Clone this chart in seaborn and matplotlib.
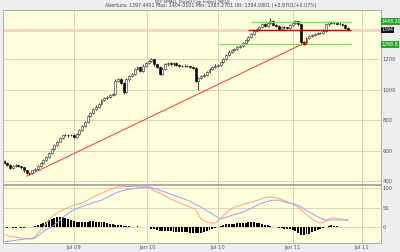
import numpy as np
import pandas as pd
import matplotlib
matplotlib.use("Agg")
import matplotlib.pyplot as plt
import seaborn as sns

# ---------------- data (weekly bars, index 0 = first week of 2009) ----------------
closes = [520, 505, 488, 500, 505, 498, 490, 470, 455, 450,
          470, 482, 500, 520, 540, 560, 585, 612, 635, 660,
          685, 700, 705, 700, 705, 692, 712, 735, 760, 790,
          830, 850, 875, 890, 905, 935, 945, 955, 965, 975,
          1060, 1068, 1048, 988, 1068, 1090, 1105, 1135, 1150, 1125,
          1160, 1175, 1190, 1200, 1168, 1150, 1105, 1140, 1168, 1175,
          1168, 1175, 1165, 1160, 1155, 1160, 1155, 1150, 1145, 1060,
          1075, 1090, 1100, 1120, 1135, 1150, 1160, 1165, 1185, 1200,
          1230, 1252, 1262, 1270, 1284, 1290, 1310, 1330, 1345, 1368,
          1385, 1400, 1412, 1432, 1420, 1438, 1455, 1425, 1420, 1400,
          1415, 1410, 1405, 1425, 1440, 1450, 1430, 1312, 1305, 1340,
          1355, 1362, 1368, 1372, 1375, 1390, 1430, 1445, 1440, 1438,
          1432, 1436, 1425, 1405, 1394]
first_open = 530
highs = [538, 525, 510, 506, 512, 510, 502, 494, 474, 462,
         476, 488, 506, 526, 546, 566, 591, 618, 641, 666,
         691, 706, 712, 711, 711, 710, 718, 741, 766, 796,
         836, 857, 882, 897, 912, 942, 952, 962, 972, 982,
         1068, 1076, 1075, 1052, 1075, 1097, 1112, 1142, 1158, 1155,
         1167, 1182, 1198, 1212, 1205, 1172, 1155, 1147, 1175, 1182,
         1180, 1182, 1180, 1170, 1165, 1167, 1165, 1160, 1157, 1150,
         1082, 1097, 1108, 1127, 1142, 1157, 1167, 1172, 1192, 1207,
         1237, 1259, 1269, 1277, 1291, 1297, 1317, 1337, 1352, 1375,
         1392, 1407, 1419, 1439, 1438, 1445, 1470, 1460, 1430, 1425,
         1422, 1420, 1415, 1432, 1447, 1458, 1455, 1435, 1322, 1347,
         1362, 1369, 1375, 1379, 1382, 1397, 1437, 1452, 1450, 1445,
         1443, 1443, 1440, 1430, 1410]
lows = [512, 498, 480, 482, 494, 490, 482, 462, 445, 438,
        444, 464, 476, 494, 514, 534, 554, 579, 606, 629,
        654, 679, 694, 693, 694, 686, 686, 706, 729, 754,
        784, 823, 843, 868, 882, 898, 928, 938, 948, 958,
        968, 1052, 1040, 975, 982, 1060, 1083, 1098, 1128, 1115,
        1118, 1153, 1168, 1183, 1160, 1142, 1095, 1098, 1133, 1160,
        1160, 1160, 1158, 1152, 1148, 1148, 1148, 1142, 1138, 1050,
        1000, 1068, 1082, 1093, 1113, 1128, 1143, 1153, 1158, 1178,
        1193, 1223, 1245, 1255, 1263, 1277, 1283, 1303, 1323, 1338,
        1361, 1378, 1393, 1405, 1412, 1413, 1431, 1418, 1412, 1392,
        1393, 1403, 1398, 1398, 1418, 1433, 1423, 1298, 1292, 1298,
        1333, 1348, 1355, 1361, 1365, 1368, 1383, 1423, 1432, 1430,
        1425, 1425, 1418, 1398, 1385]
osc_fast = [-20, -22, -24, -25, -26, -27, -28, -29, -30, -31,
            -31, -25, -16, -8, 0, 9, 18, 26, 31, 36,
            40, 44, 47, 50, 53, 56, 58, 60, 62, 65,
            69, 73, 77, 80, 84, 87, 90, 93, 96, 99,
            101, 103, 104, 104, 104, 104, 104, 104, 104, 103,
            103, 102, 102, 98, 94, 90, 87, 84, 80, 76,
            72, 69, 66, 63, 60, 57, 54, 51, 48, 44,
            32, 20, 16, 13, 11, 10, 10, 16, 22, 29,
            36, 42, 47, 51, 53, 55, 57, 60, 62, 64,
            66, 68, 70, 73, 75, 77, 77, 76, 75, 74,
            71, 68, 65, 62, 59, 55, 51, 45, 38, 32,
            26, 21, 17, 13, 10, 12, 16, 20, 23, 23,
            22, 21, 20, 19, 18]
osc_slow = [-38, -37, -36, -35, -34, -33, -32, -31, -30, -29,
            -29, -28, -23, -17, -12, -7, -3, 0, 6, 12,
            18, 24, 30, 36, 40, 44, 47, 50, 53, 55,
            58, 60, 63, 65, 67, 69, 73, 76, 80, 83,
            87, 90, 92, 94, 96, 97, 98, 99, 100, 101,
            102, 103, 103, 101, 99, 97, 95, 92, 90, 87,
            84, 82, 79, 77, 74, 72, 69, 66, 62, 58,
            55, 51, 47, 42, 38, 33, 29, 25, 21, 23,
            25, 27, 30, 32, 34, 36, 38, 41, 45, 48,
            52, 55, 58, 62, 64, 66, 68, 69, 69, 69,
            67, 65, 63, 61, 60, 58, 56, 52, 47, 42,
            38, 35, 31, 27, 23, 20, 18, 18, 18, 18,
            18, 18, 18, 18, 18]
hist = [-1, -2, -1, -2, -2, -1, -2, -2, -1, 0,
        1, 2, 4, 7, 10, 13, 17, 20, 23, 25,
        26, 25, 23, 20, 17, 15, 13, 13, 12, 12,
        14, 15, 15, 14, 13, 13, 12, 10, 9, 7,
        6, 5, 4, 3, 2, 2, 1, 1, 2, 1,
        1, 0, 0, -4, -6, -8, -9, -10, -10, -11,
        -11, -12, -12, -13, -13, -14, -14, -15, -15, -16,
        -16, -16, -14, -11, -8, -5, -2, 0, 3, 6,
        8, 9, 9, 9, 10, 10, 11, 11, 12, 13,
        12, 11, 10, 8, 6, 4, 2, 0, -1, -2,
        -3, -4, -5, -6, -8, -11, -15, -20, -21, -19,
        -17, -14, -11, -8, -5, -2, 1, 3, 4, 3,
        2, 1, 0, -1, -1]

tick_weeks = [25, 51.5, 77, 104, 129]
tick_labels = ["Jul 09", "Jan 10", "Jul 10", "Jan 11", "Jul 11"]
price_ticks = [400, 600, 800, 1000, 1200]
osc_ticks = [0, 50, 100]
resist_level = 1448.20
support_level = 1298.8
last_level = 1394
resist_start, support_start, last_start, lines_end = 89, 77.5, 88, 125
trend_x = [8, 108]
trend_y = [432, 1305]
title1 = "DJY SMALL (Small Cap Index) (BFLJ)"
title2 = "Abertura: 1397.4401 Max: 1404.0101 Min: 1387.2701 Ult: 1394.0801 (+0.9701/+0.07%)"

# ---------------- table ----------------
weeks = np.arange(len(closes))
opens = [first_open] + closes[:-1]
df = pd.DataFrame({"week": weeks, "open": opens, "close": closes,
                   "high": highs, "low": lows})
df["up"] = df["close"] >= df["open"]
osc = pd.DataFrame({"week": weeks, "fast": osc_fast, "slow": osc_slow, "hist": hist})

# ---------------- style ----------------
sns.set_style("white")
plt.rcParams["font.family"] = ["DejaVu Sans"]
BG = "#EEEEEE"
PANEL = "#FFFFDC"
GRID = "#D6D6BE"
SPINE = "#A0A0A0"
TXT = "#555555"

fig = plt.figure(figsize=(4, 2.52), dpi=100, facecolor=BG)
ax = fig.add_axes([3 / 400, 1 - 183.5 / 252, 378 / 400, 173.5 / 252])
ax2 = fig.add_axes([3 / 400, 1 - 243 / 252, 378 / 400, 58 / 252])

for a in (ax, ax2):
    a.set_facecolor(PANEL)
    for s in a.spines.values():
        s.set_color(SPINE)
        s.set_linewidth(0.6)
    a.set_xlim(-0.55, 135.9)
    a.set_xticks(tick_weeks)
    a.grid(True, color=GRID, lw=0.7, zorder=0)
    a.set_axisbelow(True)
    a.yaxis.tick_right()
    a.tick_params(axis="both", length=0, labelsize=3.8, labelcolor=TXT, pad=1.2)

# ---------------- main panel ----------------
ax.set_ylim(384, 1525)
ax.set_yticks(price_ticks)
ax.set_xticklabels([])

ax.axhline(last_level, color="#F7D2BC", lw=2.0, zorder=1)

ax.vlines(df["week"], df["low"], df["high"], color="black", lw=0.5, zorder=3)
up = df[df["up"]]
dn = df[~df["up"]]
ax.bar(up["week"], (up["close"] - up["open"]).clip(lower=2), bottom=up["open"],
       width=0.7, facecolor="white", edgecolor="#222222", lw=0.4, zorder=4)
ax.bar(dn["week"], dn["close"] - dn["open"], bottom=dn["open"],
       width=0.7, facecolor="black", edgecolor="black", lw=0.4, zorder=4)

ax.plot(trend_x, trend_y, color="#FF3030", lw=0.7, zorder=2)
ax.hlines(resist_level, resist_start, lines_end, color="#6EEA4A", lw=0.9, zorder=5)
ax.hlines(support_level, support_start, lines_end, color="#6EEA4A", lw=0.9, zorder=5)
ax.hlines(last_level, last_start, lines_end, color="#E00000", lw=0.9, zorder=5)
ax.plot([trend_x[1]], [trend_y[1]], marker="s", ms=1.6, color="#E00000", zorder=6)

ytr = ax.get_yaxis_transform()
box = dict(boxstyle="square,pad=0.15", ec="none")
ax.text(1.001, resist_level, f"{resist_level:.2f}", transform=ytr, fontsize=3.4,
        color="white", va="center", ha="left", bbox=dict(box, fc="#22A722"), clip_on=False)
ax.text(1.001, last_level, f"{last_level}", transform=ytr, fontsize=3.4,
        color="white", va="center", ha="left", bbox=dict(box, fc="#111111"), clip_on=False)
ax.text(1.001, support_level, f"{support_level}", transform=ytr, fontsize=3.4,
        color="white", va="center", ha="left", bbox=dict(box, fc="#22A722"), clip_on=False)

# ---------------- oscillator panel ----------------
ax2.set_ylim(-41, 108)
ax2.set_yticks(osc_ticks)
ax2.set_xticklabels(tick_labels)
ax2.bar(osc["week"], osc["hist"], width=0.7, color="black", lw=0, zorder=3)
sns.lineplot(data=osc, x="week", y="fast", ax=ax2, color="#FF9C8C", lw=0.7, zorder=4)
sns.lineplot(data=osc, x="week", y="slow", ax=ax2, color="#9C9CFF", lw=0.7, zorder=4)
ax2.set_xlabel("")
ax2.set_ylabel("")

# ---------------- titles ----------------
fig.text(0.48, 1 - 2.2 / 252, title1, ha="center", va="center", fontsize=3.1, color="#444444")
fig.text(0.528, 1 - 6.0 / 252, title2, ha="center", va="center", fontsize=3.4, color="#444444")

fig.savefig("out.png", dpi=100, facecolor=fig.get_facecolor())
